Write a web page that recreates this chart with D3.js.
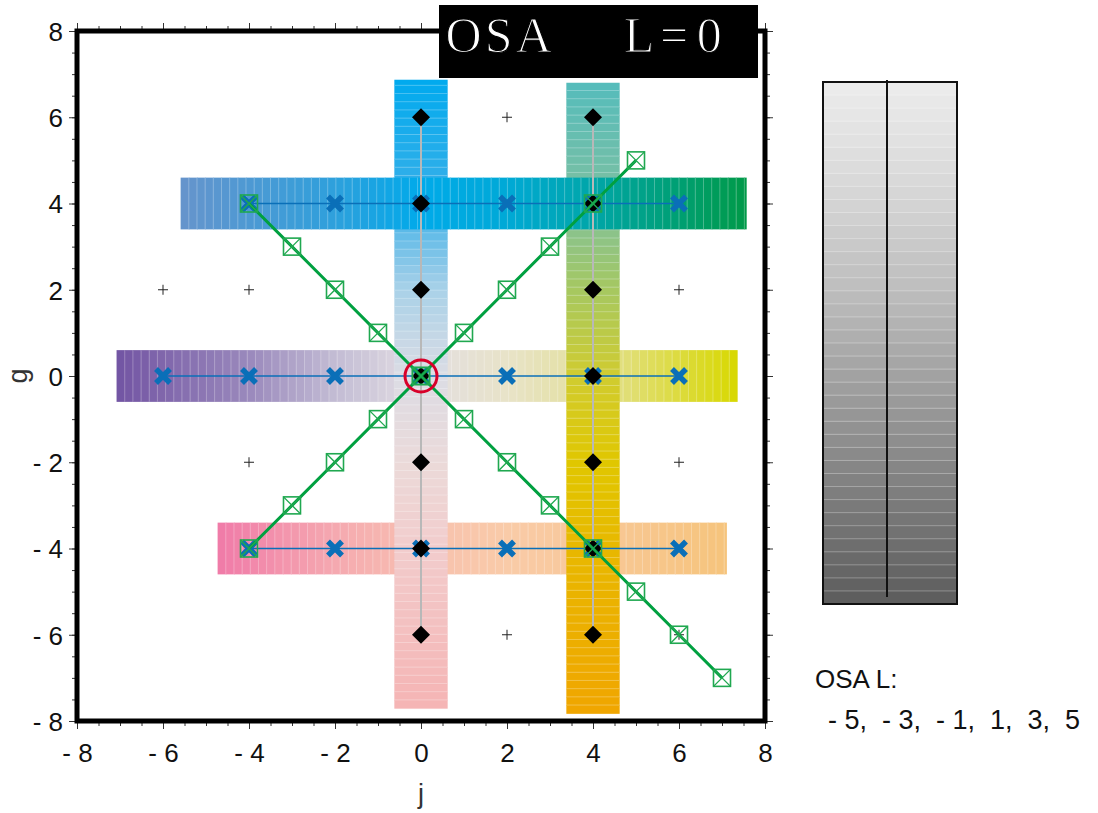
<!DOCTYPE html>
<html><head><meta charset="utf-8">
<script src="https://cdn.jsdelivr.net/npm/d3@7/dist/d3.min.js"></script>
<style>
html,body{margin:0;padding:0;background:#fff;}
svg{display:block;}
</style></head>
<body>
<svg id="chart" width="1098" height="813" font-family="Liberation Sans, Arial, sans-serif"></svg>
<script>
// ---------- data ----------
const titleText = "OSA  L=0";
const majorTicks = [-8,-6,-4,-2,0,2,4,6,8];
const minorTicks = d3.range(-8, 8.01, 0.5);
const legendTitle = "OSA L:";
const legendValues = ["- 5", "- 3", "- 1", "1", "3", "5"];

// horizontal bands: g level, j-extent
const hBands = [
  {g: 0,  j0: -7.08, j1: 7.35, stops: [-7.08,-4,-2,0,2,4,7.35],
   colors: ["#7254a3","#9a89bc","#c3bcd4","#e3dee3","#e8e3c8","#e3e09a","#d8d800"]},
  {g: -4, j0: -4.73, j1: 7.1,  stops: [-4.73,-2,0,2,4,7.1],
   colors: ["#f07aa8","#f5a9b0","#f8c0b0","#f9cba8","#f8c898","#f6c47c"]},
  {g: 4,  j0: -5.59, j1: 7.56, stops: [-5.59,-2,0,2,4,7.56],
   colors: ["#6694cc","#2ea0dc","#00aaea","#00a9d6","#00a6a8","#009a48"]}
];
// vertical bands: j level, g-extent
const vBands = [
  {j: 0, g0: -7.7, g1: 6.87, stops: [-7.7,-4,-2,0,2,4,6.87],
   colors: ["#f5b4b4","#f2cccc","#ebdad9","#dcdce4","#a9d1e8","#3cb0e8","#00aaee"]},
  {j: 4, g0: -7.82, g1: 6.8, stops: [-7.82,-4,-2,0,2,4,6.8],
   colors: ["#f0a600","#e8b800","#e0c700","#d0cc30","#a6c860","#7ec0a0","#55bcbc"]}
];
// gray guide lines
const grayLines = [{j:0, g0:-6, g1:6},{j:4, g0:-6, g1:6}];
// diamonds
const diamondJ = [0, 4];
const diamondG = [6,4,2,0,-2,-4,-6];
// blue lines with X markers
const blueRows = [
  {g: 4,  js: [-4,-2,0,2,4,6]},
  {g: 0,  js: [-6,-4,-2,0,2,4,6]},
  {g: -4, js: [-4,-2,0,2,4,6]}
];
// green diagonals with boxed markers
const greenLine1 = [[-4,4],[-3,3],[-2,2],[-1,1],[0,0],[1,-1],[2,-2],[3,-3],[4,-4],[5,-5],[6,-6],[7,-7]];
const greenLine2 = [[-4,-4],[-3,-3],[-2,-2],[-1,-1],[0,0],[1,1],[2,2],[3,3],[4,4],[5,5]];
// small plus markers
const plusPts = [[2,6],[-6,2],[-4,2],[6,2],[-4,-2],[6,-2],[2,-6],[6,-6]];
// highlighted origin
const centerPt = [0,0];
// legend gray ramp
const legendGrays = ["#ececec","#d8d8d8","#bdbdbd","#9c9c9c","#7c7c7c","#5c5c5c"];

// ---------- layout ----------
const svg = d3.select("#chart");
const x = d3.scaleLinear().domain([-8,8]).range([77,765]);
const y = d3.scaleLinear().domain([-8,8]).range([721,31]);
const fmt = d => d < 0 ? "- " + Math.abs(d) : String(d);

const plot = svg.append("g");
const bandHalf = 0.6;
const step = 0.19;

function drawH(b){
  const c = d3.scaleLinear().domain(b.stops).range(b.colors).interpolate(d3.interpolateRgb);
  const g = plot.append("g");
  const edges = [];
  for (let v = b.j0; v < b.j1 - 1e-9; v += step) edges.push([v, Math.min(v+step, b.j1)]);
  g.selectAll("rect").data(edges).join("rect")
    .attr("x", d => x(d[0])).attr("width", d => x(d[1]) - x(d[0]) + 0.6)
    .attr("y", y(b.g + bandHalf)).attr("height", y(b.g - bandHalf) - y(b.g + bandHalf))
    .attr("fill", d => c((d[0]+d[1])/2));
  g.selectAll("line").data(edges.slice(1)).join("line")
    .attr("x1", d => x(d[0])).attr("x2", d => x(d[0]))
    .attr("y1", y(b.g + bandHalf)).attr("y2", y(b.g - bandHalf))
    .attr("stroke", "#fff").attr("stroke-opacity", 0.28).attr("stroke-width", 1);
}
function drawV(b){
  const c = d3.scaleLinear().domain(b.stops).range(b.colors).interpolate(d3.interpolateRgb);
  const g = plot.append("g");
  const edges = [];
  for (let v = b.g0; v < b.g1 - 1e-9; v += step) edges.push([v, Math.min(v+step, b.g1)]);
  g.selectAll("rect").data(edges).join("rect")
    .attr("y", d => y(d[1])).attr("height", d => y(d[0]) - y(d[1]) + 0.6)
    .attr("x", x(b.j - bandHalf - 0.02)).attr("width", x(b.j + bandHalf + 0.02) - x(b.j - bandHalf - 0.02))
    .attr("fill", d => c((d[0]+d[1])/2));
  g.selectAll("line").data(edges.slice(1)).join("line")
    .attr("y1", d => y(d[0])).attr("y2", d => y(d[0]))
    .attr("x1", x(b.j - bandHalf - 0.02)).attr("x2", x(b.j + bandHalf + 0.02))
    .attr("stroke", "#fff").attr("stroke-opacity", 0.28).attr("stroke-width", 1);
}
drawH(hBands[0]); drawH(hBands[1]);
vBands.forEach(drawV);
drawH(hBands[2]);

// gray guide lines
plot.selectAll(".gl").data(grayLines).join("line")
  .attr("x1", d => x(d.j)).attr("x2", d => x(d.j))
  .attr("y1", d => y(d.g1)).attr("y2", d => y(d.g0))
  .attr("stroke", "#b8b8b8").attr("stroke-width", 2);

// blue lines + X
const blue = "#0a6fb8";
blueRows.forEach(r => {
  plot.append("line")
    .attr("x1", x(d3.min(r.js))).attr("x2", x(d3.max(r.js)))
    .attr("y1", y(r.g)).attr("y2", y(r.g))
    .attr("stroke", blue).attr("stroke-width", 1.6);
  plot.append("g").selectAll("path").data(r.js).join("path")
    .attr("d", d => { const cx = x(d), cy = y(r.g), s = 7;
      return `M${cx-s},${cy-s}L${cx+s},${cy+s}M${cx-s},${cy+s}L${cx+s},${cy-s}`; })
    .attr("stroke", blue).attr("stroke-width", 5.5).attr("fill", "none");
});

// diamonds
const dpts = [];
diamondJ.forEach(j => diamondG.forEach(g => dpts.push([j,g])));
plot.append("g").selectAll("path").data(dpts).join("path")
  .attr("d", d => { const cx = x(d[0]), cy = y(d[1]), s = 9;
    return `M${cx},${cy-s}L${cx+s},${cy}L${cx},${cy+s}L${cx-s},${cy}Z`; })
  .attr("fill", "#000");

// plus markers
plot.append("g").selectAll("path").data(plusPts).join("path")
  .attr("d", d => { const cx = x(d[0]), cy = y(d[1]), s = 5;
    return `M${cx-s},${cy}L${cx+s},${cy}M${cx},${cy-s}L${cx},${cy+s}`; })
  .attr("stroke", "#222").attr("stroke-width", 1);

// green lines + boxed markers
const green = "#00a040";
const line = d3.line().x(d => x(d[0])).y(d => y(d[1]));
[greenLine1, greenLine2].forEach(pts => {
  plot.append("path").datum(pts).attr("d", line)
    .attr("fill", "none").attr("stroke", green).attr("stroke-width", 3);
  const gg = plot.append("g");
  gg.selectAll("rect").data(pts).join("rect")
    .attr("x", d => x(d[0]) - 8.5).attr("y", d => y(d[1]) - 8.5)
    .attr("width", 17).attr("height", 17)
    .attr("fill", "none").attr("stroke", "#20a850").attr("stroke-width", 1.6);
  gg.selectAll("path").data(pts).join("path")
    .attr("d", d => { const cx = x(d[0]), cy = y(d[1]), s = 8.5;
      return `M${cx-s},${cy-s}L${cx+s},${cy+s}M${cx-s},${cy+s}L${cx+s},${cy-s}`; })
    .attr("stroke", "#20a850").attr("stroke-width", 1.4).attr("fill", "none");
});

// red circle
plot.append("circle").attr("cx", x(centerPt[0])).attr("cy", y(centerPt[1])).attr("r", 16)
  .attr("fill", "none").attr("stroke", "#d8002a").attr("stroke-width", 3);

// ---------- axes ----------
function styleAxis(g){
  g.select(".domain").remove();
  g.attr("font-family", "Liberation Sans, Arial, sans-serif");
  g.selectAll(".tick line").attr("stroke", "#333").attr("stroke-width", 1);
  g.selectAll(".tick text").attr("font-size", 26).attr("fill", "#111");
}
svg.append("g").attr("transform", `translate(${x(-8)},0)`)
  .call(d3.axisLeft(y).tickValues(minorTicks).tickSize(5).tickFormat("")).call(styleAxis);
svg.append("g").attr("transform", `translate(${x(-8)},0)`)
  .call(d3.axisLeft(y).tickValues(majorTicks).tickSize(8).tickPadding(6).tickFormat(fmt))
  .call(styleAxis).selectAll(".tick text").attr("dy", "0.36em");
svg.append("g").attr("transform", `translate(0,${y(-8)})`)
  .call(d3.axisBottom(x).tickValues(minorTicks).tickSize(5).tickFormat("")).call(styleAxis);
svg.append("g").attr("transform", `translate(0,${y(-8)})`)
  .call(d3.axisBottom(x).tickValues(majorTicks).tickSize(8).tickPadding(15).tickFormat(fmt))
  .call(styleAxis);
svg.append("g").attr("transform", `translate(${x(8)},0)`)
  .call(d3.axisRight(y).tickValues(minorTicks).tickSize(5).tickFormat("")).call(styleAxis);
svg.append("g").attr("transform", `translate(${x(8)},0)`)
  .call(d3.axisRight(y).tickValues(majorTicks).tickSize(8).tickFormat("")).call(styleAxis);
svg.append("g").attr("transform", `translate(0,${y(8)})`)
  .call(d3.axisTop(x).tickValues(minorTicks).tickSize(5).tickFormat("")).call(styleAxis);
svg.append("g").attr("transform", `translate(0,${y(8)})`)
  .call(d3.axisTop(x).tickValues(majorTicks).tickSize(8).tickFormat("")).call(styleAxis);

// frame
svg.append("rect").attr("x", x(-8)).attr("y", y(8))
  .attr("width", x(8) - x(-8)).attr("height", y(-8) - y(8))
  .attr("fill", "none").attr("stroke", "#000").attr("stroke-width", 5);

// axis titles
svg.append("text").attr("x", x(0)).attr("y", 803).attr("text-anchor", "middle")
  .attr("font-size", 27).attr("fill", "#333").text("j");
svg.append("text").attr("transform", `translate(27,${y(0)}) rotate(-90)`)
  .attr("text-anchor", "middle").attr("font-size", 27).attr("fill", "#333").text("g");

// title box (typewriter-style: serif glyphs on a fixed-width grid)
svg.append("rect").attr("x", 439).attr("y", 5).attr("width", 319).attr("height", 73).attr("fill", "#000");
const cell = 35.1, tx0 = 446;
const tchars = titleText.split("").map((c, i) => ({c, i})).filter(d => d.c !== " ");
svg.append("g").selectAll("text").data(tchars).join("text")
  .attr("x", d => tx0 + d.i*cell + cell/2).attr("y", 52)
  .attr("text-anchor", "middle")
  .style("font-family", "'Liberation Serif', serif").style("font-size", "50px")
  .attr("fill", "#fff").attr("stroke", "#000").attr("stroke-width", 1.2)
  .text(d => d.c);

// ---------- legend ----------
const lg = svg.append("g");
const lx0 = 823, lx1 = 957, ly0 = 82, ly1 = 604;
const nStripes = 40;
const ramp = d3.scaleLinear().domain(d3.range(legendGrays.length).map(i => i/(legendGrays.length-1)))
  .range(legendGrays);
const sh = (ly1 - ly0) / nStripes;
lg.selectAll("rect.s").data(d3.range(nStripes)).join("rect")
  .attr("x", lx0).attr("width", lx1 - lx0)
  .attr("y", i => ly0 + i*sh).attr("height", sh + 0.5)
  .attr("fill", i => ramp((i+0.5)/nStripes));
lg.selectAll("line.s").data(d3.range(1, nStripes)).join("line")
  .attr("x1", lx0).attr("x2", lx1)
  .attr("y1", i => ly0 + i*sh).attr("y2", i => ly0 + i*sh)
  .attr("stroke", "#fff").attr("stroke-opacity", 0.3).attr("stroke-width", 1);
lg.append("rect").attr("x", lx0).attr("y", ly0).attr("width", lx1-lx0).attr("height", ly1-ly0)
  .attr("fill", "none").attr("stroke", "#111").attr("stroke-width", 2);
lg.append("line").attr("x1", 887).attr("x2", 887).attr("y1", 80).attr("y2", 597)
  .attr("stroke", "#111").attr("stroke-width", 2);
lg.append("text").attr("x", 815).attr("y", 688).attr("font-size", 26).attr("fill", "#111").text(legendTitle);
lg.append("text").attr("x", 828).attr("y", 729).attr("font-size", 27).attr("fill", "#111")
  .style("white-space", "pre").text(legendValues.join(",  "));
</script>
</body></html>
